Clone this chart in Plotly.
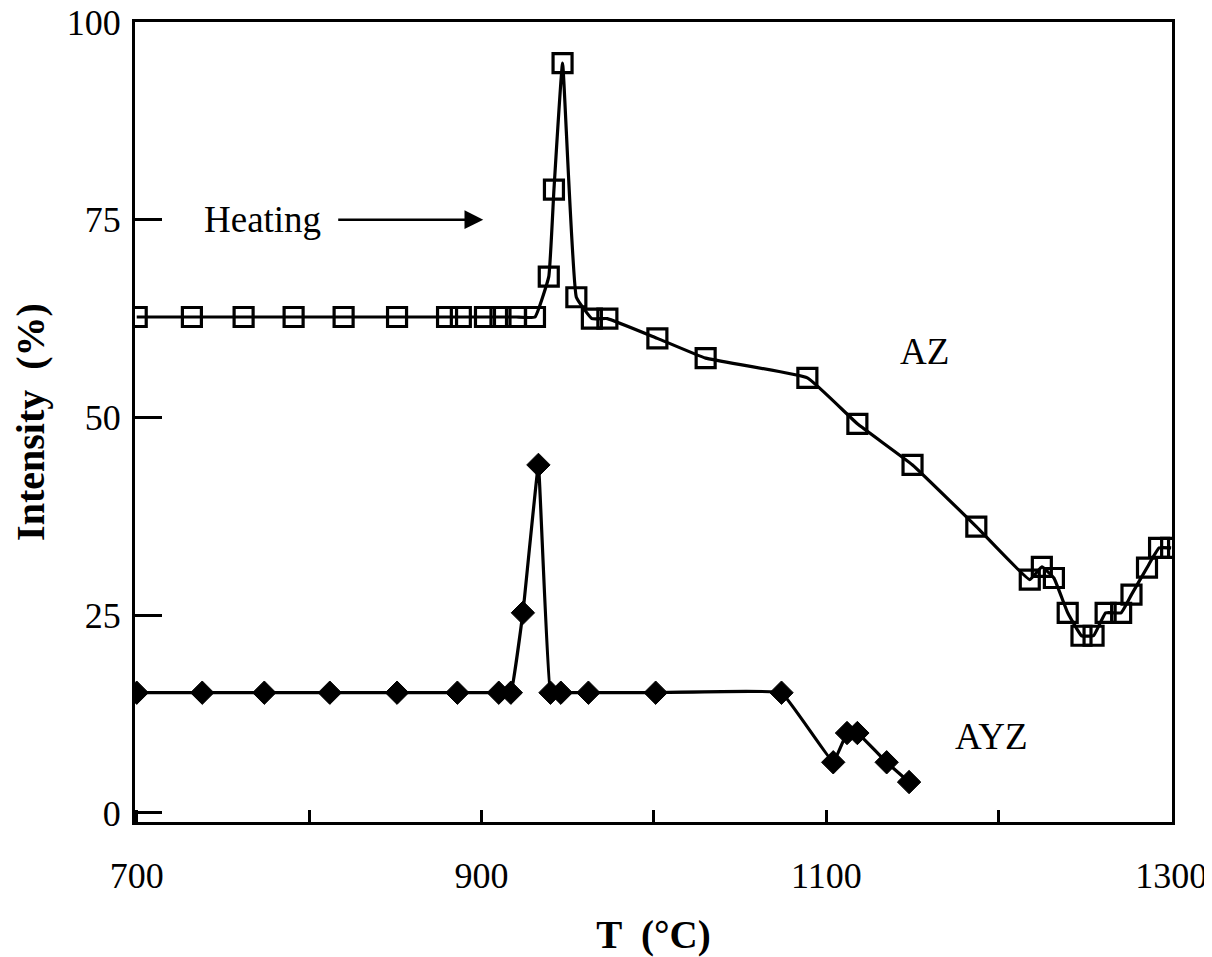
import plotly.graph_objects as go

# AZ series (open squares)
az_T = [700, 732, 762, 791, 820, 851, 880, 888, 902, 911, 920, 931, 939, 942, 947, 955,
        964, 973, 1002, 1030, 1089, 1118, 1150, 1187, 1218, 1225, 1232, 1240, 1248, 1255,
        1262, 1271, 1277, 1286, 1293, 1300]
az_I = [62.7, 62.7, 62.7, 62.7, 62.7, 62.7, 62.7, 62.7, 62.7, 62.7, 62.7, 62.7, 67.8, 78.8, 94.8, 65.2,
        62.5, 62.5, 60.0, 57.5, 55.0, 49.2, 44.0, 36.2, 29.5, 31.1, 29.7, 25.3, 22.4, 22.4,
        25.3, 25.3, 27.6, 31.0, 33.5, 33.5]

# AYZ series (filled diamonds)
ayz_T = [700, 738, 774, 812, 851, 886, 910, 917, 924, 933, 940, 946, 962, 1001, 1074,
         1104, 1112, 1118, 1135, 1148]
ayz_I = [15.2, 15.2, 15.2, 15.2, 15.2, 15.2, 15.2, 15.2, 25.3, 44.0, 15.2, 15.2, 15.2, 15.2, 15.2,
         6.4, 10.1, 10.1, 6.4, 3.9]

x_ticks = [700, 900, 1100, 1300]
y_ticks = [0, 25, 50, 75, 100]

FONT = "Liberation Serif"

fig = go.Figure()
fig.add_trace(go.Scatter(
    x=az_T, y=az_I, mode="lines+markers", name="AZ",
    line=dict(color="black", width=3.2, shape="spline", smoothing=0.3),
    marker=dict(symbol="square-open", size=19, color="black", line=dict(width=3.2, color="black")),
))
fig.add_trace(go.Scatter(
    x=ayz_T, y=ayz_I, mode="lines+markers", name="AYZ",
    line=dict(color="black", width=3.2, shape="spline", smoothing=0.2),
    marker=dict(symbol="diamond", size=18, color="black", line=dict(width=1, color="black")),
))

fig.add_annotation(x=773, y=75, text="Heating", showarrow=False,
                   font=dict(family=FONT, size=37, color="black"))
fig.add_annotation(x=901, y=75, ax=816, ay=75, axref="x", ayref="y", xref="x", yref="y",
                   text="", showarrow=True, arrowhead=2, arrowsize=1.5, arrowwidth=2.5,
                   arrowcolor="black")
fig.add_annotation(x=1157, y=58.3, text="AZ", showarrow=False,
                   font=dict(family=FONT, size=37, color="black"))
fig.add_annotation(x=1196, y=9.7, text="AYZ", showarrow=False,
                   font=dict(family=FONT, size=37, color="black"))

fig.update_layout(
    width=1204, height=949,
    margin=dict(l=127, r=40, t=14, b=135),
    paper_bgcolor="white", plot_bgcolor="white",
    showlegend=False,
    font=dict(family=FONT, size=36, color="black"),
)
fig.update_xaxes(
    automargin=False,
    range=[699, 1300.5], tickvals=x_ticks, ticktext=[str(v) for v in x_ticks],
    ticks="inside", ticklen=12, tickwidth=2.5, tickcolor="black",
    minor=dict(dtick=100, tick0=700, ticks="inside", ticklen=12, tickwidth=2.5, tickcolor="black"),
    showline=True, linewidth=3, linecolor="black", mirror=True,
    showgrid=False, zeroline=False,
    tickfont=dict(family=FONT, size=36, color="black"),
    ticklabelstandoff=20, ticklabeloverflow="allow",
    title=dict(text="<b>T  (°C)</b>", font=dict(family=FONT, size=39, color="black"), standoff=33),
)
fig.update_yaxes(
    automargin=False,
    range=[-1.15, 100], tickvals=y_ticks, ticktext=[str(v) for v in y_ticks],
    ticks="inside", ticklen=27, tickwidth=2.5, tickcolor="black",
    showline=True, linewidth=3, linecolor="black", mirror=True,
    showgrid=False, zeroline=False,
    tickfont=dict(family=FONT, size=36, color="black"),
    ticklabelstandoff=4, ticklabeloverflow="allow",
    title=dict(text="<b>Intensity  (%)</b>", font=dict(family=FONT, size=40, color="black"), standoff=20),
)

fig.write_html("out.html")
